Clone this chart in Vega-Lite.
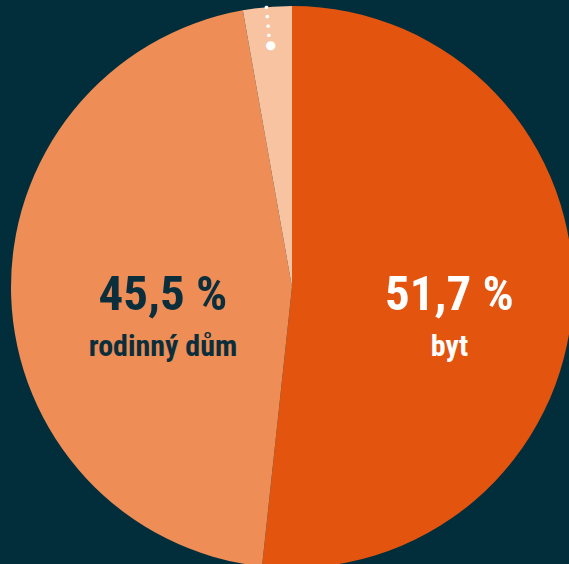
{
  "$schema": "https://vega.github.io/schema/vega-lite/v6.json",
  "width": 554,
  "height": 554,
  "autosize": {"type": "none"},
  "padding": {"left": 15, "top": 10, "right": 0, "bottom": 0},
  "background": "#022E3B",
  "config": {"view": {"stroke": null}},
  "data": {"values": [
    {"name": "byt", "value": 51.7, "order": 1, "pct": "51,7 %"},
    {"name": "rodinný dům", "value": 45.5, "order": 2, "pct": "45,5 %"},
    {"name": "jiné", "value": 2.8, "order": 3, "pct": "2,8 %"}
  ]},
  "encoding": {
    "theta": {"field": "value", "type": "quantitative", "stack": true},
    "order": {"field": "order", "type": "quantitative"},
    "detail": {"field": "name", "type": "nominal"}
  },
  "layer": [
    {
      "mark": {"type": "arc", "outerRadius": 281, "strokeWidth": 0},
      "encoding": {
        "color": {"field": "name", "type": "nominal", "scale": {"domain": ["byt", "rodinný dům", "jiné"], "range": ["#E3540F", "#EE8D55", "#F8C3A0"]}, "legend": null}
      }
    },
    {
      "mark": {"type": "text", "font": "Roboto Condensed, Liberation Sans Narrow, sans-serif", "fontWeight": "bold", "fontSize": 49, "align": "center", "baseline": "alphabetic", "radius": 157.7, "dy": 14.6, "color": "#FFFFFF"},
      "encoding": {
        "text": {"condition": {"test": "datum.order !== 1", "value": ""}, "field": "pct"}
      }
    },
    {
      "mark": {"type": "text", "font": "Roboto Condensed, Liberation Sans Narrow, sans-serif", "fontWeight": "bold", "fontSize": 30, "align": "center", "baseline": "alphabetic", "radius": 157.7, "dy": 60.6, "color": "#FFFFFF"},
      "encoding": {
        "text": {"condition": {"test": "datum.order !== 1", "value": ""}, "field": "name"}
      }
    },
    {
      "mark": {"type": "text", "font": "Roboto Condensed, Liberation Sans Narrow, sans-serif", "fontWeight": "bold", "fontSize": 49, "align": "center", "baseline": "alphabetic", "radius": 129.1, "dy": 18.7, "color": "#0B2E3C"},
      "encoding": {
        "text": {"condition": {"test": "datum.order !== 2", "value": ""}, "field": "pct"}
      }
    },
    {
      "mark": {"type": "text", "font": "Roboto Condensed, Liberation Sans Narrow, sans-serif", "fontWeight": "bold", "fontSize": 30, "align": "center", "baseline": "alphabetic", "radius": 129.1, "dy": 64.7, "color": "#0B2E3C"},
      "encoding": {
        "text": {"condition": {"test": "datum.order !== 2", "value": ""}, "field": "name"}
      }
    },
    {
      "mark": {"type": "text", "font": "DejaVu Sans", "fontSize": 12, "align": "center", "baseline": "middle", "radius": 243, "color": "#FFFFFF"},
      "encoding": {
        "text": {"condition": {"test": "datum.order !== 3", "value": ""}, "value": "●"}
      }
    },
    {
      "mark": {"type": "text", "font": "Roboto", "fontSize": 16, "align": "left", "baseline": "middle", "radius": 250, "angle": -95, "color": "#FFFFFF"},
      "encoding": {
        "text": {"condition": {"test": "datum.order !== 3", "value": ""}, "value": "• • • • • •"}
      }
    }
  ]
}
